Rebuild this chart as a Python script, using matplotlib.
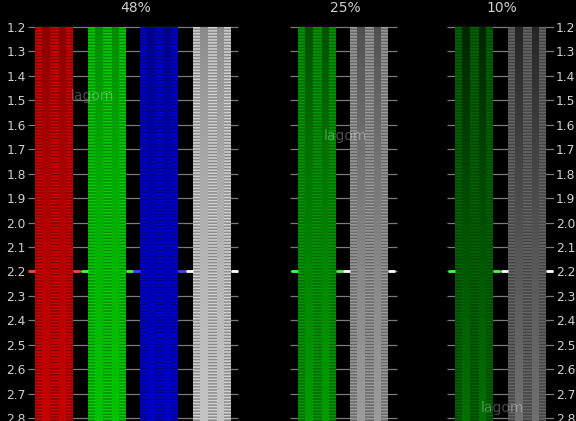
import numpy as np
import matplotlib.pyplot as plt

# gamma scale and groups
gamma_ticks = [1.2, 1.3, 1.4, 1.5, 1.6, 1.7, 1.8, 1.9, 2.0,
               2.1, 2.2, 2.3, 2.4, 2.5, 2.6, 2.7, 2.8]
group_labels = ['48%', '25%', '10%']
group_levels = [0.48, 0.25, 0.10]
group_channels = [
    [(1, 0, 0), (0, 1, 0), (0, 0, 1), (1, 1, 1)],
    [(0, 1, 0), (1, 1, 1)],
    [(0, 1, 0), (1, 1, 1)],
]
target_gamma = 2.2

# layout, in pixels of the 576x421 picture
px_per_unit = 391 / 1.6
bar_lefts = [[35, 88, 140, 193], [298, 350], [455, 508]]
bar_width = 38
group_spans = [(28, 238), (290, 397), (447, 554)]
title_x = [136, 345, 502]
col_kind = [0] * 7 + [1] * 8 + [0] * 9 + [1] * 7 + [0] * 7   # 0 stripes, 1 solid
n_rows = 260


def bar_image(level, channel):
    """Striped bar with solid strips whose value follows level**(1/gamma)."""
    g = np.linspace(gamma_ticks[0], gamma_ticks[-1], n_rows)
    base = level ** (1 / target_gamma)
    stripe = np.where(np.arange(n_rows) % 2 == 0, min(base * 1.15, 1.0), base * 0.75)
    solid = level ** (1 / g)
    kind = np.array(col_kind)
    val = np.where(kind[None, :] == 1, solid[:, None], stripe[:, None])
    return val[:, :, None] * np.array(channel)[None, None, :]


fig = plt.figure(figsize=(5.76, 4.21), dpi=100, facecolor='black')
ax = fig.add_axes([28 / 576, 0, 526 / 576, 1])
ax.set_facecolor('black')

y_top = gamma_ticks[0] - 27 / px_per_unit
y_bot = gamma_ticks[-1] + 3 / px_per_unit

for gi, level in enumerate(group_levels):
    x0, x1 = group_spans[gi]
    ax.hlines(gamma_ticks, x0, x1, color='#7a7a7a', lw=0.9, zorder=1)
    for left, ch in zip(bar_lefts[gi], group_channels[gi]):
        img = bar_image(level, ch)
        ax.imshow(img, extent=(left, left + bar_width, gamma_ticks[-1] + 0.012, gamma_ticks[0]),
                  aspect='auto', interpolation='antialiased', zorder=2)
        mark = tuple(0.25 + 0.75 * c for c in ch) if ch != (1, 1, 1) else (1, 1, 1)
        ax.hlines(target_gamma, left - 7, left, color=mark, lw=2, zorder=3)
        ax.hlines(target_gamma, left + bar_width, left + bar_width + 7, color=mark, lw=2, zorder=3)
    ax.text(title_x[gi], gamma_ticks[0] - 19 / px_per_unit, group_labels[gi],
            color='#cfcfcf', fontsize=10, ha='center', va='center')

# faint watermarks
for wx, wy in [(92, 96), (345, 136), (502, 408)]:
    ax.text(wx, gamma_ticks[0] + (wy - 27) / px_per_unit, 'lagom', color='white',
            alpha=0.3, fontsize=10, ha='center', va='center', zorder=4)

ax.set_xlim(28, 554)
ax.set_ylim(y_bot, y_top)
ax.set_xticks([])
ax.set_yticks(gamma_ticks)
ax.set_yticklabels([f'{t:.1f}' for t in gamma_ticks])
ax.tick_params(axis='y', length=0, pad=1.5, labelsize=8.8, labelcolor='#d0d0d0',
               left=True, right=True, labelleft=True, labelright=True)
for s in ax.spines.values():
    s.set_visible(False)

fig.savefig('out.png', dpi=100, facecolor='black')
